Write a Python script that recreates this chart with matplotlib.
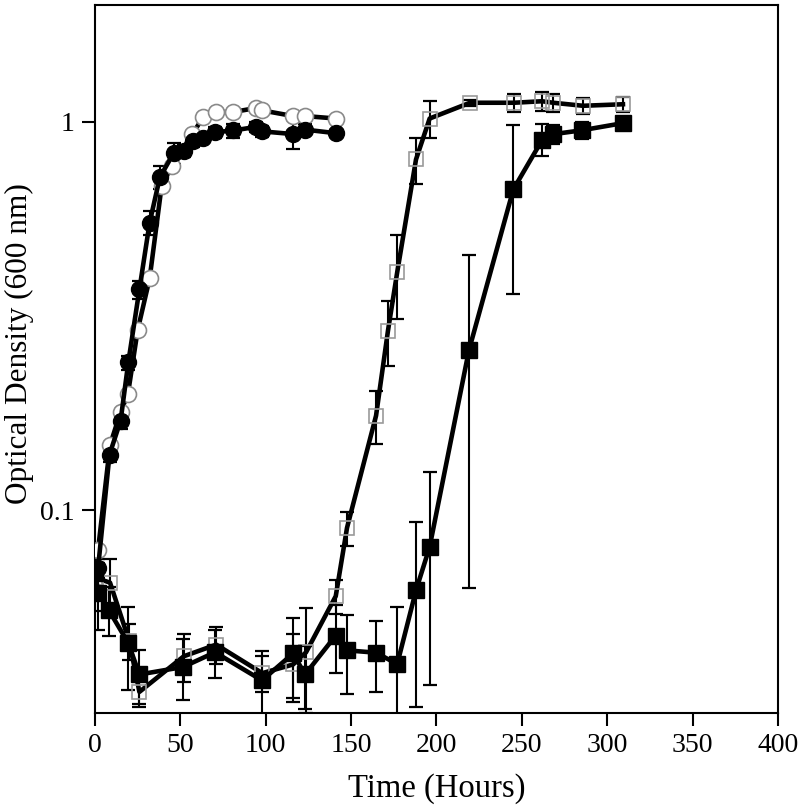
import numpy as np
import matplotlib
matplotlib.use('Agg')
import matplotlib.pyplot as plt
from matplotlib.ticker import FixedLocator, NullLocator, FixedFormatter

# filled circles
fc_x = [1.8, 8.5, 15, 19.5, 26, 32, 38, 46, 52, 57.5, 63, 70, 81, 94, 98, 116, 123, 141]
fc_y = [0.071, 0.139, 0.17, 0.24, 0.37, 0.55, 0.72, 0.83, 0.84, 0.89, 0.91, 0.94, 0.95, 0.97, 0.945, 0.93, 0.955, 0.935]
fc_err = [0.004, 0.006, 0.008, 0.01, 0.02, 0.04, 0.05, 0.05, 0.03, 0.03, 0.03, 0.03, 0.04, 0.03, 0.03, 0.08, 0.03, 0.02]

# open circles
oc_x = [1.8, 8.8, 15, 19.3, 25, 32, 39, 45, 57, 63.5, 71, 81, 94, 98, 116, 123, 141]
oc_y = [0.079, 0.147, 0.179, 0.199, 0.291, 0.395, 0.683, 0.77, 0.93, 1.03, 1.06, 1.06, 1.085, 1.07, 1.035, 1.035, 1.02]

# open squares
os_x = [0, 8.8, 20, 26, 52, 71, 98, 116, 123.6, 141, 147.6, 164.6, 171.6, 177, 188, 196, 219.6, 245.4, 261.8, 268.3, 285.8, 309.2]
os_y = [0.067, 0.065, 0.046, 0.034, 0.042, 0.045, 0.038, 0.040, 0.043, 0.060, 0.090, 0.175, 0.29, 0.41, 0.80, 1.02, 1.12, 1.12, 1.13, 1.12, 1.10, 1.11]
os_err = [0.012, 0.01, 0.005, 0.003, 0.006, 0.005, 0.004, 0.008, 0.013, 0.006, 0.009, 0.027, 0.055, 0.1, 0.11, 0.11, 0.02, 0.06, 0.065, 0.06, 0.05, 0.05]

# filled squares
fs_x = [0, 2, 8, 19.5, 26, 51.5, 70.3, 97.8, 116, 123, 141, 147.6, 164.6, 177, 188, 196, 219, 245, 262, 268, 285, 309]
fs_y = [0.069, 0.061, 0.0553, 0.0454, 0.0377, 0.0394, 0.043, 0.0364, 0.0427, 0.0377, 0.0475, 0.0435, 0.0429, 0.0401, 0.0621, 0.0804, 0.258, 0.67, 0.90, 0.929, 0.951, 0.992]
fs_err = [0.006, 0.012, 0.008, 0.011, 0.006, 0.007, 0.006, 0.007, 0.01, 0.007, 0.0095, 0.01, 0.009, 0.016, 0.031, 0.045, 0.195, 0.31, 0.085, 0.05, 0.05, 0.02]

plt.rcParams['font.family'] = 'Liberation Serif'

fig = plt.figure(figsize=(7.99, 8.06), dpi=100)
ax = fig.add_axes([0.1189, 0.1154, 0.8548, 0.8784])

ebkw = dict(ecolor='black', elinewidth=1.5, capsize=5, capthick=1.6)

ax.errorbar(os_x, os_y, yerr=os_err, fmt='none', zorder=2, **ebkw)
ax.plot(os_x, os_y, color='black', lw=3.3, zorder=3)
ax.plot(os_x, os_y, ls='none', marker='s', ms=10, mfc='none', mec='#9a9a9a', mew=1.2, zorder=4)

ax.errorbar(fs_x, fs_y, yerr=fs_err, fmt='none', zorder=2, **ebkw)
ax.plot(fs_x, fs_y, color='black', lw=3.3, marker='s', ms=11.5, mfc='black', mec='black', zorder=5)

ax.errorbar(fc_x, fc_y, yerr=fc_err, fmt='none', zorder=2, **ebkw)
ax.plot(oc_x, oc_y, color='black', lw=3.3, zorder=3)
ax.plot(oc_x, oc_y, ls='none', marker='o', ms=11.5, mfc='white', mec='#8a8a8a', mew=1.2, zorder=6)
ax.plot(fc_x, fc_y, color='black', lw=3.3, marker='o', ms=11.5, mfc='black', mec='black', zorder=7)

ax.set_xlim(0, 400)
ax.set_yscale('log')
ax.set_ylim(0.03, 2.0)
ax.set_xticks(np.arange(0, 401, 50))
ax.yaxis.set_major_locator(FixedLocator([0.1, 1]))
ax.yaxis.set_major_formatter(FixedFormatter(['0.1', '1']))
ax.yaxis.set_minor_locator(NullLocator())

for s in ax.spines.values():
    s.set_linewidth(1.5)
ax.tick_params(axis='both', direction='out', length=9.5, width=1.5, labelsize=20, pad=5)

ax.set_xlabel('Time (Hours)', fontsize=23.5, labelpad=11)
ax.set_ylabel('Optical Density (600 nm)', fontsize=22.5)
ax.yaxis.set_label_coords(-0.09, 0.522)

fig.savefig('out.png', dpi=100)
